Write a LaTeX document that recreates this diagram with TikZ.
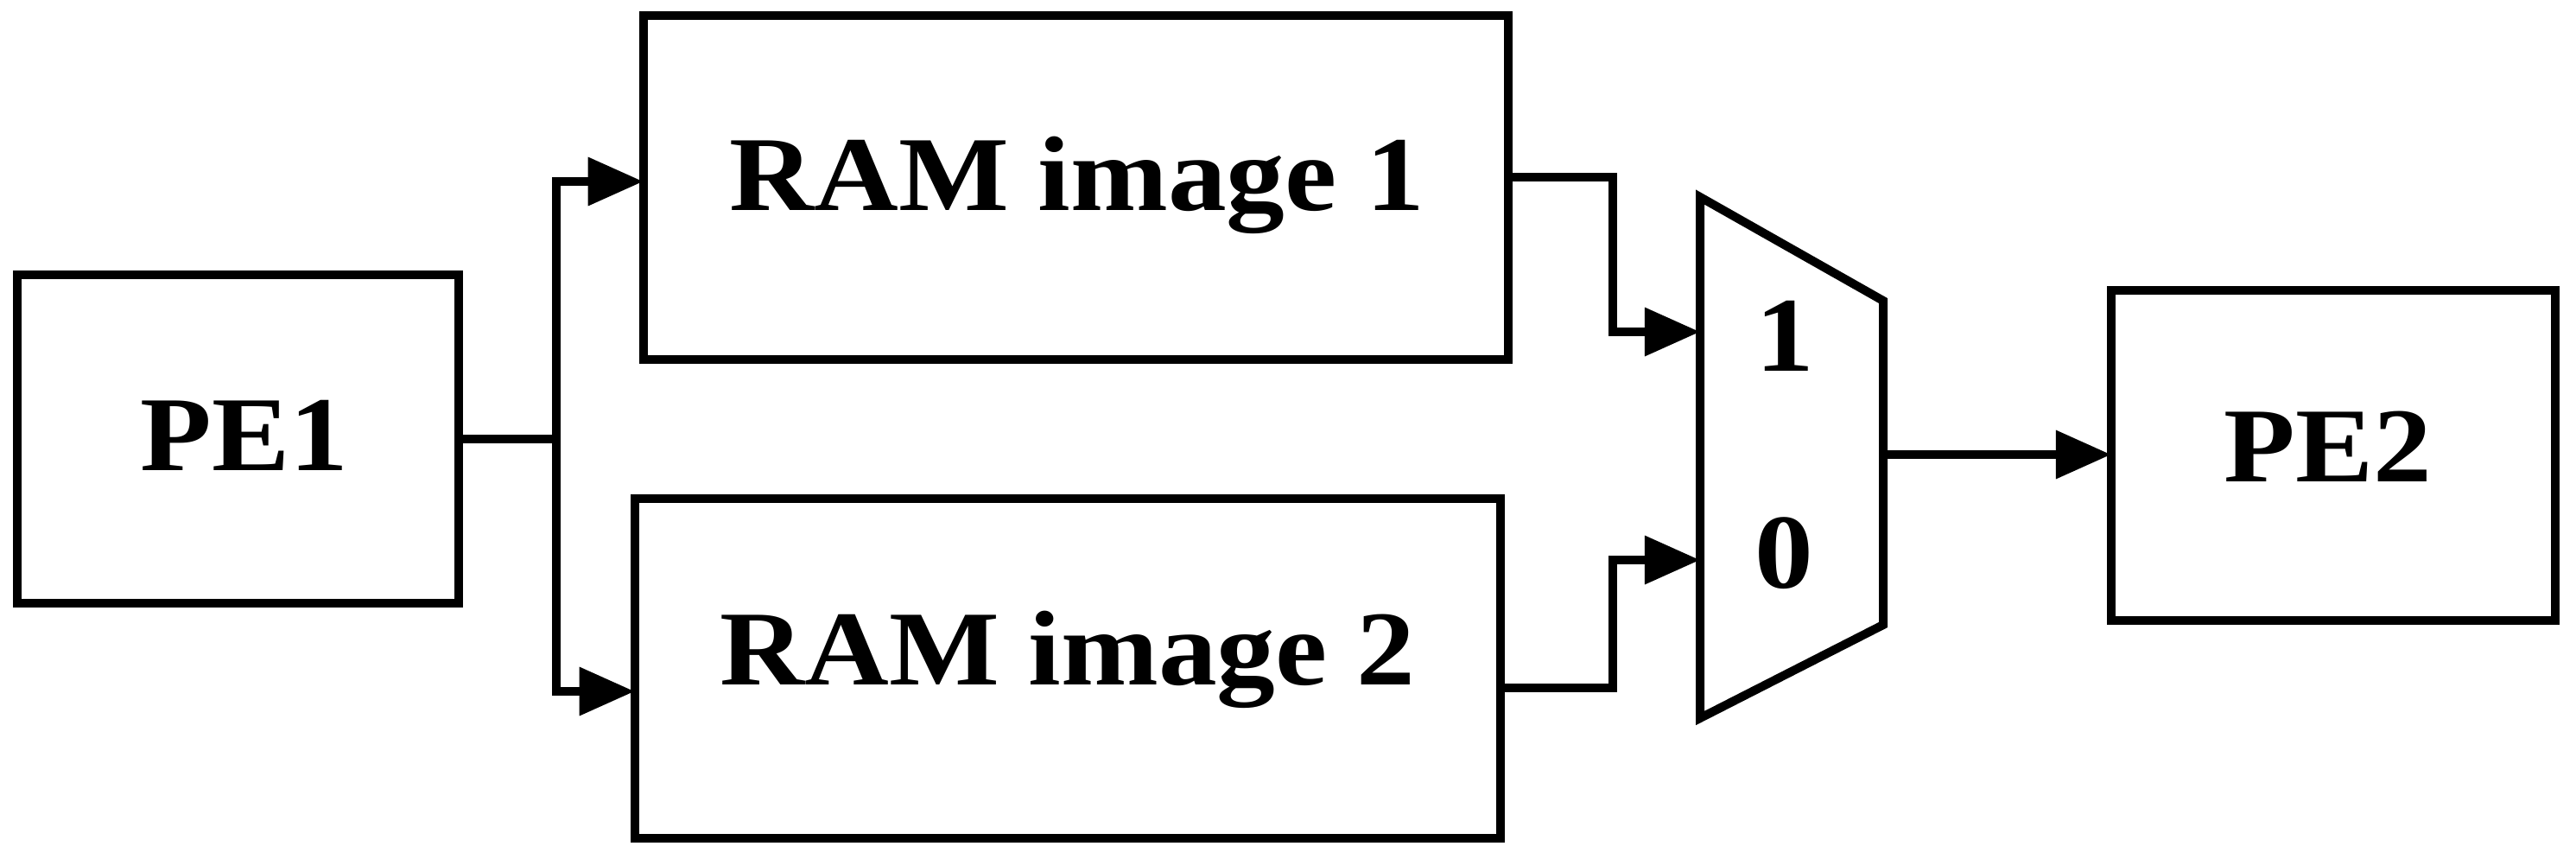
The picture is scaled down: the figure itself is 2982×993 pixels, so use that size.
\documentclass[tikz,border=0pt]{standalone}
\usepackage{fontspec}
\setmainfont{Liberation Serif}[FakeStretch=1.1]
\usetikzlibrary{arrows.meta}
\begin{document}
\begin{tikzpicture}[x=0.01cm, y=-0.01cm,
  box/.style={draw, line width=0.1cm, rectangle, inner sep=0, outer sep=0},
  lbl/.style={font=\fontsize{35}{40}\selectfont\bfseries, inner sep=0, anchor=base},
  wire/.style={line width=0.1cm},
  arr/.style={line width=0.1cm, -{Triangle[length=0.64cm, width=0.54cm]}}]
\useasboundingbox (0,0) rectangle (2982,993);
% boxes
\node[box, minimum width=5.11cm, minimum height=3.80cm] (pe1) at (275.5,508) {};
\node[box, minimum width=10.01cm, minimum height=3.98cm] (ram1) at (1245.5,217) {};
\node[box, minimum width=10.02cm, minimum height=3.93cm] (ram2) at (1236,773.5) {};
\node[box, minimum width=5.14cm, minimum height=3.82cm] (pe2) at (2701,527) {};
% labels
\node[lbl] (pe1t) at (283,544) {PE1};
\node[lbl] (ram1t) at (1247,243) {RAM image 1};
\node[lbl] (ram2t) at (1236,792) {RAM image 2};
\node[lbl] (pe2t) at (2695,557) {PE2};
% multiplexer
\coordinate (m1) at (1968,228);
\coordinate (m2) at (2180,348);
\coordinate (m3) at (2180,723);
\coordinate (m4) at (1968,831);
\draw[wire, line join=miter] (m1) -- (m2) -- (m3) -- (m4) -- cycle;
\node[lbl] (in1) at (2066,429) {1};
\node[lbl] (in0) at (2065,680) {0};
\coordinate (mi1) at (1968,384);
\coordinate (mi0) at (1968,648);
\coordinate (mo) at (2180,526);
% connectors
\coordinate (split) at (644,508);
\draw[wire] (pe1.east) -- (split);
\draw[arr] (split) |- (ram1.west |- 0,210);
\draw[arr] (split) |- (ram2.west |- 0,800);
\draw[arr] (ram1.east |- 0,205) -| (1867,384) -- (mi1);
\draw[arr] (ram2.east |- 0,796) -| (1867,648) -- (mi0);
\draw[arr] (mo) -- (pe2.west |- mo);
\end{tikzpicture}
\end{document}
